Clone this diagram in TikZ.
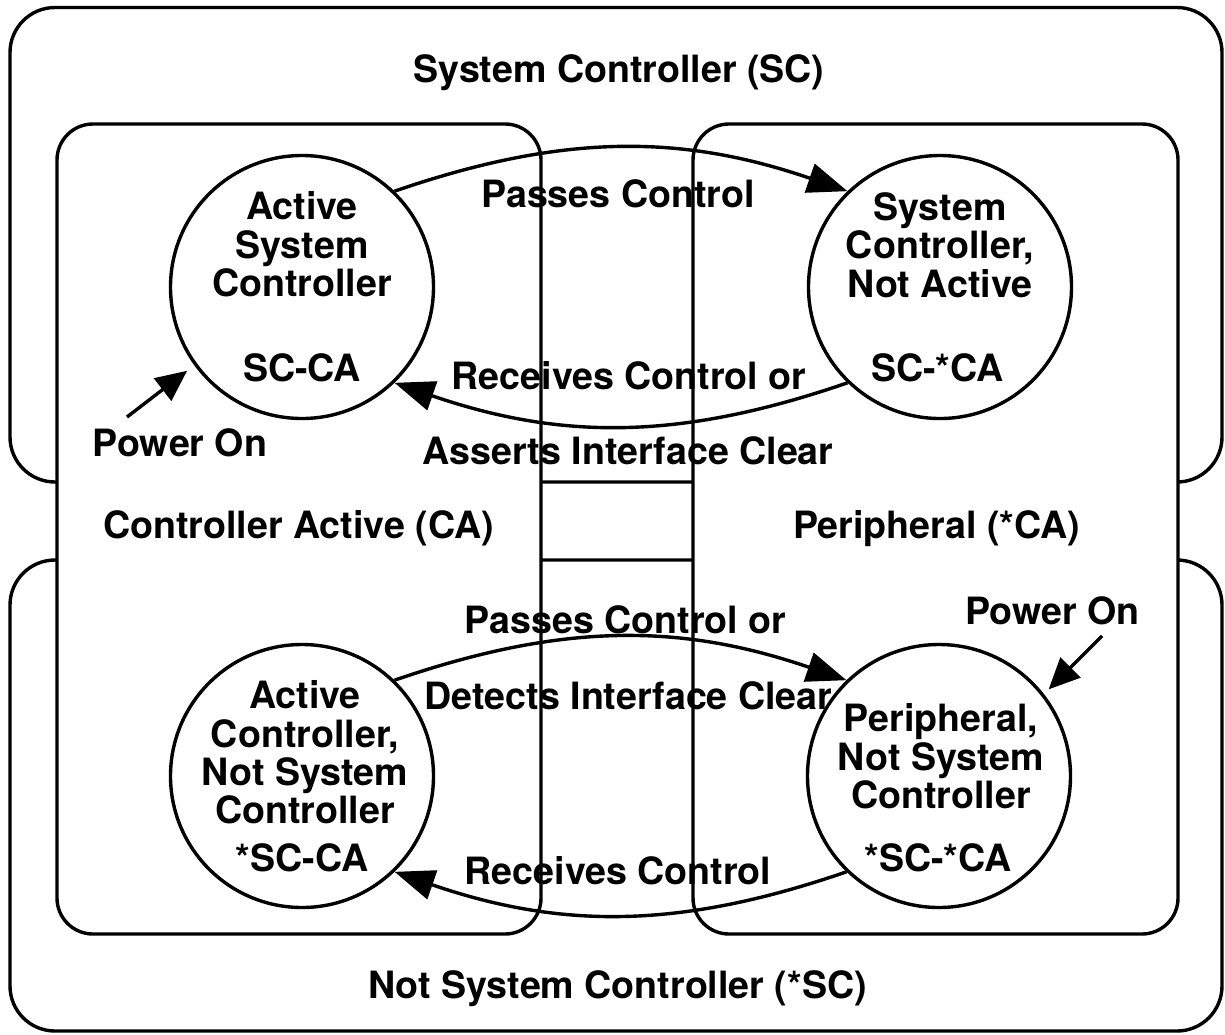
\documentclass[tikz,border=0pt]{standalone}
\usepackage{fontspec}
\setmainfont{TeX Gyre Heros}
\usetikzlibrary{arrows.meta}
\newcommand\lblfont{\fontsize{37.6}{38.3}\selectfont\bfseries}

\begin{document}
\begin{tikzpicture}[x=1pt,y=1pt,line width=3.4pt,
  frame/.style={draw,inner sep=0pt,rounded corners=#1},
  state/.style={draw,circle,minimum size=263pt,inner sep=0pt},
  lab/.style={inner sep=0pt,font=\lblfont,text height=27pt,text depth=0pt},
  blk/.style={inner sep=0pt,font=\lblfont,align=center},
  trans/.style={-{Triangle[length=40pt,width=30pt]}},
  pwr/.style={-{Triangle[length=31pt,width=28pt]}}]
\useasboundingbox (0,0) rectangle (1225,-1034);

% outer regions: system controller / not system controller
\node[frame=45pt,minimum width=1212pt,minimum height=474.5pt] (sc) at (616,-244.75) {};
\node[frame=45pt,minimum width=1212pt,minimum height=471pt] (nsc) at (616,-795.5) {};

% inner regions: controller active / peripheral
\node[frame=36pt,fill=white,minimum width=484pt,minimum height=810pt] (ca) at (299,-529) {};
\node[frame=36pt,fill=white,minimum width=485pt,minimum height=810pt] (nca) at (935.5,-529) {};

% region titles
\node[lab] (sct) at (619,-69) {System Controller (SC)};
\node[lab] (nsct) at (617.5,-985) {Not System Controller (*SC)};
\node[lab] (cat) at (298.5,-524.5) {Controller Active (CA)};
\node[lab] (ncat) at (936.5,-525) {Peripheral (*CA)};

% states
\node[state] (c1) at (302,-287) {};
\node[state] (c2) at (940,-287) {};
\node[state] (c3) at (302,-776) {};
\node[state] (c4) at (939,-776) {};

\node[blk] (c1t) at (302,-244.5) {Active\\System\\Controller};
\node[lab] (c1c) at (302,-368) {SC-CA};
\node[blk] (c2t) at (940,-245) {System\\Controller,\\Not Active};
\node[lab] (c2c) at (937.5,-368) {SC-*CA};
\node[blk] (c3t) at (305,-752.5) {Active\\Controller,\\Not System\\Controller};
\node[lab] (c3c) at (302,-858) {*SC-CA};
\node[blk] (c4t) at (941,-756.5) {Peripheral,\\Not System\\Controller};
\node[lab] (c4c) at (938,-858) {*SC-*CA};

% transitions
\draw[trans] (c1.46) to[bend left=19] (c2.134);
\draw[trans] (c2.-134) to[bend left=19] (c1.-46);
\draw[trans] (c3.46) to[bend left=19] (c4.134);
\draw[trans] (c4.-134) to[bend left=19] (c3.-46);

\node[lab] (t1) at (618,-193.5) {Passes Control};
\node[lab] (t2a) at (629,-376) {Receives Control or};
\node[lab] (t2b) at (628,-451) {Asserts Interface Clear};
\node[lab] (t3a) at (625.5,-620) {Passes Control or};
\node[lab] (t3b) at (628.5,-696) {Detects Interface Clear};
\node[lab] (t4) at (618,-871) {Receives Control};

% power-on entries
\node[lab] (p1) at (180,-442.5) {Power On};
\node[lab] (p2) at (1052.5,-610.5) {Power On};
\coordinate (p1s) at (127,-417);
\coordinate (p2s) at (1102,-636);
\draw[pwr,shorten >=9pt] (p1s) -- (c1.216);
\draw[pwr,shorten >=6.6pt] (p2s) -- (c4.38);
\end{tikzpicture}
\end{document}
